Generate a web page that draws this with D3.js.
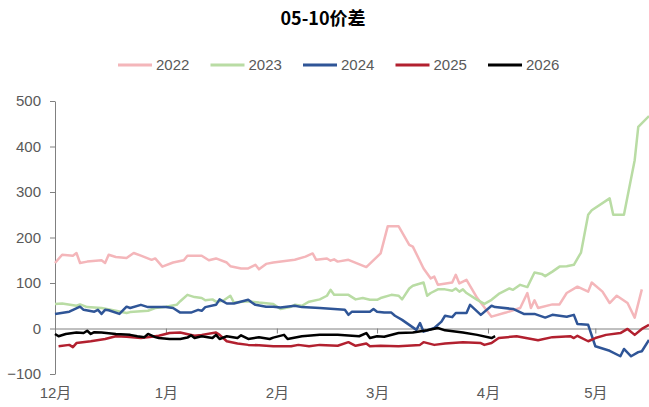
<!DOCTYPE html>
<html>
<head>
<meta charset="utf-8">
<script src="https://d3js.org/d3.v7.min.js"></script>
<style>
  body { margin: 0; background: #fff; }
  text { font-family: "Liberation Sans", Arial, "Noto Sans CJK SC", sans-serif; }
</style>
</head>
<body>
<div id="chart"></div>
<script>
// 연도별 series, 날짜는 MM-DD (12월은 전년도)
const years = ['2022', '2023', '2024', '2025', '2026'];
const colors = ['#f4b6ba', '#b9dca4', '#2f5597', '#b2202f', '#000000'];
const yTicks = [-100, 0, 100, 200, 300, 400, 500];

const dates2022 = ['12-01','12-03','12-06','12-07','12-08','12-10','12-14','12-15','12-16','12-18','12-21','12-23','12-25','12-28','12-29','12-31',
  '01-03','01-06','01-07','01-11','01-13','01-15','01-18','01-19','01-22','01-24','01-26','01-27','01-29','01-31',
  '02-06','02-09','02-11','02-12','02-15','02-16','02-17','02-18','02-21','02-26',
  '03-02','03-04','03-07','03-10','03-11','03-14','03-16','03-17','03-18','03-22','03-23','03-24','03-26','03-29',
  '04-02','04-06','04-10','04-12','04-13','04-14','04-15','04-19','04-21','04-23','04-26','04-29','04-30',
  '05-03','05-05','05-07','05-10','05-12','05-14'];
const vals2022 = [144,162,160,166,144,147,150,144,162,157,155,166,160,151,154,136,
  145,150,160,160,150,154,145,137,132,132,140,130,142,145,
  151,158,165,151,154,149,152,147,151,135,
  165,225,225,184,180,132,110,114,96,101,118,99,107,67,
  26,35,45,78,45,62,45,53,53,78,92,81,101,
  81,56,72,56,24,86];

const dates2023 = ['12-01','12-03','12-07','12-08','12-10','12-14','12-18','12-21','12-22','12-27','12-29',
  '01-01','01-04','01-05','01-07','01-09','01-11','01-12','01-14','01-15','01-17','01-19','01-20','01-24','01-27','01-31',
  '02-02','02-05','02-06','02-08','02-10','02-13','02-15','02-16','02-17','02-21','02-23','02-25','02-27',
  '03-01','03-02','03-05','03-07','03-08','03-10','03-11','03-14','03-15','03-16','03-18','03-20','03-22','03-23','03-24','03-25','03-26','03-29','03-31',
  '04-02','04-04','04-07','04-08','04-10','04-12','04-14','04-16','04-17','04-19','04-21','04-23','04-25','04-27','04-29','04-30',
  '05-05','05-06','05-09','05-10','05-12','05-13','05-16'];
const vals2023 = [54,55,50,53,47,45,39,34,36,39,45,
  48,52,60,74,69,67,62,64,59,61,72,57,60,57,54,
  43,48,52,50,59,64,72,85,74,74,64,67,63,
  63,67,74,72,64,88,94,101,72,78,86,86,83,88,81,86,78,63,54,
  63,76,88,85,96,91,123,120,115,125,136,137,140,167,250,260,
  286,250,250,290,370,443,467];

const dates2024 = ['12-01','12-05','12-08','12-09','12-12','12-13','12-14','12-15','12-16','12-19','12-21','12-22','12-25','12-27',
  '01-01','01-03','01-05','01-08','01-10','01-11','01-12','01-15','01-16','01-18','01-20','01-24','01-25','01-26','01-29','01-31',
  '02-02','02-06','02-08','02-13','02-20','02-21','02-22','02-24','02-27','02-28',
  '03-01','03-03','03-05','03-06','03-08','03-12','03-13','03-14','03-17','03-19','03-20','03-22','03-23','03-26','03-27','03-30',
  '04-02','04-03','04-08','04-11','04-14','04-17','04-19','04-23','04-25','04-26','04-29',
  '05-01','05-05','05-08','05-09','05-11','05-13','05-14','05-16'];
const vals2024 = [32,37,48,41,37,41,32,41,40,32,48,45,52,47,
  47,45,35,35,41,39,47,52,64,55,55,63,57,52,48,48,
  46,50,47,45,41,30,37,37,37,43,
  37,35,35,28,19,-3,12,-7,1,15,28,25,34,34,52,30,
  50,47,43,32,32,24,30,26,30,10,8,
  -39,-49,-61,-45,-61,-52,-50,-25];

const dates2025 = ['12-02','12-05','12-06','12-07','12-11','12-15','12-18','12-21','12-25','12-28','12-30',
  '01-02','01-05','01-09','01-11','01-15','01-16','01-18','01-21','01-24','01-27','01-31',
  '02-05','02-07','02-10','02-13','02-18','02-21','02-23','02-26','02-27',
  '03-02','03-07','03-13','03-14','03-17','03-20','03-25','03-30','03-31',
  '04-02','04-04','04-09','04-15','04-19','04-24','04-25','04-26','04-29',
  '05-01','05-04','05-08','05-10','05-12','05-14','05-16'];
const vals2025 = [-39,-36,-41,-32,-28,-23,-17,-18,-21,-18,-16,
  -10,-9,-16,-14,-9,-14,-28,-33,-36,-37,-39,
  -39,-36,-39,-36,-38,-30,-38,-33,-39,
  -38,-39,-36,-30,-36,-33,-30,-32,-36,
  -32,-21,-17,-26,-19,-17,-21,-16,-28,
  -21,-14,-10,-1,-14,-1,8];

const dates2026 = ['12-01','12-02','12-04','12-07','12-09','12-10','12-11','12-12','12-14','12-18','12-22','12-24','12-26','12-27','12-29','12-30',
  '01-02','01-05','01-07','01-08','01-09','01-11','01-14','01-15','01-16','01-18','01-21','01-22','01-24','01-27','01-30','01-31',
  '02-03','02-04','02-08','02-13','02-18','02-24','02-26','02-27',
  '03-01','03-03','03-07','03-11','03-15','03-18','03-20','03-25','03-29',
  '04-02','04-03'];
const vals2026 = [-12,-17,-12,-9,-10,-5,-12,-8,-9,-12,-14,-17,-19,-12,-19,-21,
  -23,-23,-20,-15,-21,-17,-21,-14,-23,-17,-21,-15,-23,-19,-23,-20,
  -14,-23,-17,-14,-14,-17,-10,-21,
  -17,-18,-10,-9,-4,1,-4,-9,-14,
  -21,-17];

// ======================================================================

var width = 649,
  height = 407;

var parseDay = function (s) {
  var p = s.split('-');
  var m = +p[0];
  return new Date(m == 12 ? 2000 : 2001, m - 1, +p[1]);
};

var allDates = [dates2022, dates2023, dates2024, dates2025, dates2026];
var allVals = [vals2022, vals2023, vals2024, vals2025, vals2026];

var series = years.map(function (yr, i) {
  return {
    key: yr,
    color: colors[i],
    values: allDates[i].map(function (d, j) { return { date: parseDay(d), value: allVals[i][j] }; })
  };
});

var svg = d3.select('#chart')
  .append('svg')
  .attr('width', width)
  .attr('height', height);

svg.append('rect').attr('width', width).attr('height', height).attr('fill', '#fff');

var x = d3.scaleTime()
  .domain([parseDay('12-01'), parseDay('05-16')])
  .range([55, 649]);

var y = d3.scaleLinear()
  .domain([-100, 500])
  .range([374, 101]);

// title
svg.append('text')
  .attr('x', 323)
  .attr('y', 25)
  .attr('text-anchor', 'middle')
  .style('font-family', '"Noto Sans CJK SC", sans-serif')
  .style('font-size', '18px')
  .style('font-weight', 'bold')
  .attr('fill', '#000')
  .text('05-10价差');

// legend
var legend = svg.append('g').selectAll('g')
  .data(series)
  .enter()
  .append('g')
  .attr('transform', function (d, i) { return 'translate(' + (118 + i * 92.5) + ',65)'; });

legend.append('line')
  .attr('x1', 0).attr('x2', 34)
  .attr('y1', 0).attr('y2', 0)
  .attr('stroke', function (d) { return d.color; })
  .attr('stroke-width', 3);

legend.append('text')
  .attr('x', 38)
  .attr('dy', '0.35em')
  .attr('fill', '#595959')
  .style('font-size', '15px')
  .text(function (d) { return d.key; });

// y axis
var yAxis = svg.append('g')
  .attr('transform', 'translate(55,0)')
  .call(d3.axisLeft(y).tickValues(yTicks).tickSize(5).tickSizeOuter(0).tickPadding(9));

// x axis on zero line, labels pushed to the bottom
var xAxis = svg.append('g')
  .attr('transform', 'translate(0,' + y(0) + ')')
  .call(d3.axisBottom(x)
    .ticks(d3.timeMonth.every(1))
    .tickFormat(function (d) { return (d.getMonth() + 1) + '月'; })
    .tickSize(5)
    .tickSizeOuter(0)
    .tickPadding(54));

[yAxis, xAxis].forEach(function (g) {
  g.select('.domain').attr('stroke', '#808080');
  g.selectAll('.tick line').attr('stroke', '#808080');
  g.selectAll('.tick text')
    .attr('fill', '#595959')
    .style('font-size', '15px')
    .style('font-family', '"Liberation Sans", Arial, "Noto Sans CJK SC", sans-serif');
});

// lines
var line = d3.line()
  .x(function (d) { return x(d.date); })
  .y(function (d) { return y(d.value); });

svg.append('g')
  .selectAll('path')
  .data(series)
  .enter()
  .append('path')
  .attr('d', function (d) { return line(d.values); })
  .attr('fill', 'none')
  .attr('stroke', function (d) { return d.color; })
  .attr('stroke-width', 2.5)
  .attr('stroke-linejoin', 'round');
</script>
</body>
</html>
